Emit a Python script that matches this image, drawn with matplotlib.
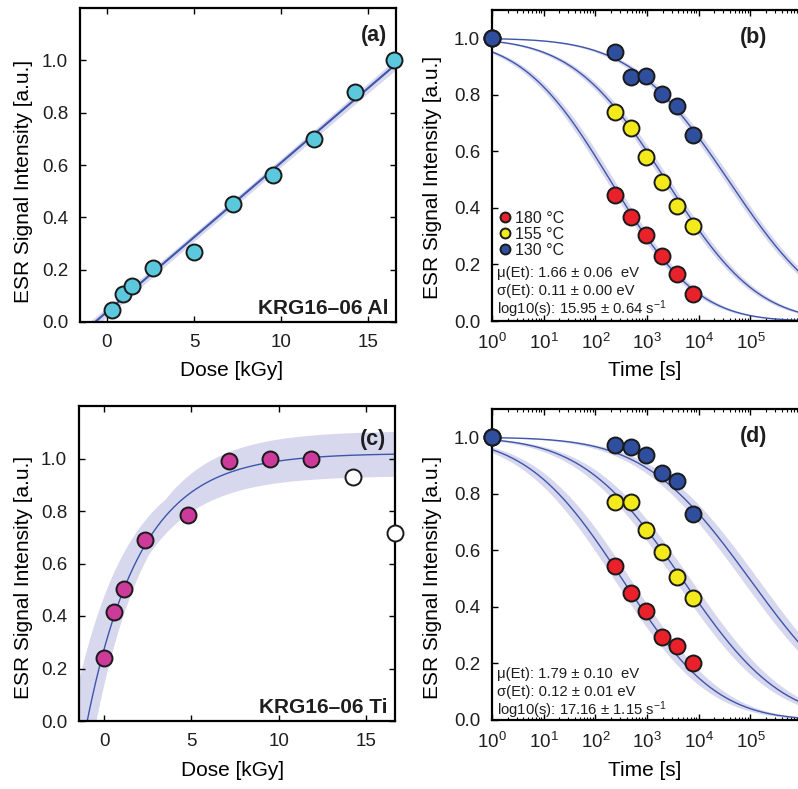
import numpy as np
import matplotlib
matplotlib.use("Agg")
import matplotlib.pyplot as plt
from matplotlib.ticker import LogLocator, FixedLocator, FormatStrFormatter, FuncFormatter

plt.rcParams['font.family'] = ['Liberation Sans', 'DejaVu Sans']
plt.rcParams['mathtext.fontset'] = 'custom'
plt.rcParams['mathtext.rm'] = 'Liberation Sans'
plt.rcParams['mathtext.it'] = 'Liberation Sans:italic'

# ---------------- data ----------------
# (a) KRG16-06 Al dose response
dose_al = [0.27, 0.90, 1.46, 2.62, 4.98, 7.23, 9.56, 11.90, 14.25, 16.50]
esr_al = [0.047, 0.106, 0.136, 0.208, 0.268, 0.452, 0.560, 0.700, 0.880, 1.000]
lin_slope, lin_icpt = 0.057, 0.039

# (c) KRG16-06 Ti dose response
dose_ti = [0.0, 0.56, 1.15, 2.35, 4.79, 7.13, 9.52, 11.87]
esr_ti = [0.240, 0.414, 0.503, 0.690, 0.786, 0.990, 0.997, 1.000]
dose_ti_excl = [14.25, 16.67]
esr_ti_excl = [0.930, 0.717]
sat_A, sat_D0, sat_Dc = 1.02, 0.98, 3.1

# (b)/(d) isothermal decay
times = [1, 240, 480, 960, 1920, 3840, 7680]
temps = [180, 155, 130]
b_180 = [1.0, 0.447, 0.368, 0.305, 0.230, 0.165, 0.097]
b_155 = [1.0, 0.739, 0.684, 0.581, 0.493, 0.408, 0.335]
b_130 = [1.0, 0.953, 0.864, 0.868, 0.804, 0.761, 0.658]
d_180 = [1.0, 0.544, 0.450, 0.387, 0.295, 0.262, 0.200]
d_155 = [1.0, 0.770, 0.770, 0.673, 0.595, 0.506, 0.431]
d_130 = [1.0, 0.974, 0.964, 0.937, 0.875, 0.845, 0.730]
fit_b = dict(mu=1.66, sig=0.11, logs=15.95)
fit_d = dict(mu=1.79, sig=0.12, logs=17.16)
band_b, band_d = 0.08, 0.16
text_b = ['\u03bc(Et): 1.66 \u00b1 0.06  eV', '\u03c3(Et): 0.11 \u00b1 0.00 eV',
          'log10(s): 15.95 \u00b1 0.64 s$^{\\mathregular{-1}}$']
text_d = ['\u03bc(Et): 1.79 \u00b1 0.10  eV', '\u03c3(Et): 0.12 \u00b1 0.01 eV',
          'log10(s): 17.16 \u00b1 1.15 s$^{\\mathregular{-1}}$']

c_red, c_yel, c_blu = '#e8212a', '#f3ea1c', '#2f4e9e'
c_cyan, c_mag = '#5bc8dd', '#cc3a9a'
c_line, c_band = '#3e55aa', '#d7d8ee'
c_text = '#1e1e1e'
ms, mew = 11.5, 1.4
fs_tick, fs_lab = 13.5, 15

plt.rcParams['text.color'] = c_text
plt.rcParams['xtick.labelcolor'] = c_text
plt.rcParams['ytick.labelcolor'] = c_text

W, H = 798, 789
fig = plt.figure(figsize=(W / 100, H / 100), dpi=100)


def add_ax(l, r, t, b):
    return fig.add_axes([l / W, 1 - b / H, (r - l) / W, (b - t) / H])


def style(ax):
    for s in ax.spines.values():
        s.set_linewidth(1.6)
    ax.tick_params(direction='in', top=True, right=True, length=4, width=1,
                   labelsize=fs_tick, pad=8.5)
    ax.tick_params(which='minor', direction='in', top=True, right=True,
                   length=2.5, width=0.8)
    ax.yaxis.set_major_formatter(FormatStrFormatter('%.1f'))


def decay(t, mu, sig, logs, Tc):
    kT = 8.617e-5 * (Tc + 273.15)
    E = np.linspace(mu - 5 * sig, mu + 5 * sig, 1201)
    w = np.exp(-0.5 * ((E - mu) / sig) ** 2)
    w /= w.sum()
    k = 10 ** logs * np.exp(-E / kT)
    return (w[None, :] * np.exp(-np.outer(t, k))).sum(axis=1)


# ---------------- (a) ----------------
ax = add_ax(80, 396, 8, 322)
style(ax)
ax.set_xlim(-1.55, 16.6)
ax.set_ylim(0, 1.2)
ax.yaxis.set_major_locator(FixedLocator([0, 0.2, 0.4, 0.6, 0.8, 1.0]))
ax.xaxis.set_major_locator(FixedLocator([0, 5, 10, 15]))
xx = np.linspace(-1.6, 17, 200)
yy = lin_slope * xx + lin_icpt
hw = np.sqrt(0.015 ** 2 + (0.0015 * (xx - 7)) ** 2)
ax.fill_between(xx, yy - hw, yy + hw, color=c_band, lw=0)
ax.plot(xx, yy, color=c_line, lw=1.5)
ax.plot(dose_al, esr_al, 'o', ms=ms, mfc=c_cyan, mec='#1a1a1a', mew=mew, clip_on=False, zorder=5)
ax.set_xlabel('Dose [kGy]', fontsize=fs_lab)
ax.set_ylabel('ESR Signal Intensity [a.u.]', fontsize=fs_lab)
ax.xaxis.set_label_coords(0.48, -0.153)
ax.yaxis.set_label_coords(-0.18, 0.449)
ax.xaxis.label.set_va('center')
ax.yaxis.label.set_va('center')
ax.text(0.972, 0.913, '(a)', transform=ax.transAxes, ha='right', va='center',
        fontsize=15.5, fontweight='bold')
ax.text(0.975, 0.025, 'KRG16\u201306 Al', transform=ax.transAxes, ha='right', va='baseline',
        fontsize=15, fontweight='bold')

# ---------------- (c) ----------------
ax = add_ax(79, 395, 406, 721)
style(ax)
ax.set_xlim(-1.45, 16.67)
ax.set_ylim(0, 1.2)
ax.yaxis.set_major_locator(FixedLocator([0, 0.2, 0.4, 0.6, 0.8, 1.0]))
ax.xaxis.set_major_locator(FixedLocator([0, 5, 10, 15]))
xx = np.linspace(-1.6, 17, 400)


def sat(x):
    return sat_A * (1 - np.exp(-(x + sat_D0) / sat_Dc))


up = np.maximum(sat(xx + 1.0), sat(xx) * 1.085)
lo = np.minimum(sat(xx - 0.5), sat(xx) * 0.917)
ax.fill_between(xx, lo, up, color=c_band, lw=0)
ax.plot(xx, sat(xx), color=c_line, lw=1.0)
ax.plot(dose_ti, esr_ti, 'o', ms=ms, mfc=c_mag, mec='#1a1a1a', mew=mew, clip_on=False, zorder=5)
ax.plot(dose_ti_excl, esr_ti_excl, 'o', ms=ms, mfc='white', mec='#1a1a1a', mew=mew, clip_on=False, zorder=5)
ax.set_xlabel('Dose [kGy]', fontsize=fs_lab)
ax.set_ylabel('ESR Signal Intensity [a.u.]', fontsize=fs_lab)
ax.xaxis.set_label_coords(0.485, -0.156)
ax.yaxis.set_label_coords(-0.177, 0.456)
ax.xaxis.label.set_va('center')
ax.yaxis.label.set_va('center')
ax.text(0.972, 0.893, '(c)', transform=ax.transAxes, ha='right', va='center',
        fontsize=15.5, fontweight='bold')
ax.text(0.975, 0.025, 'KRG16\u201306 Ti', transform=ax.transAxes, ha='right', va='baseline',
        fontsize=15, fontweight='bold')


def log_fmt(v, pos):
    e = int(round(np.log10(v)))
    if e > 5:
        return ''
    return '$\\mathdefault{10^{%d}}$' % e


# ---------------- (b) / (d) ----------------
def decay_panel(ax, series, fit, band, label, lines, line_y, legend):
    style(ax)
    ax.set_xscale('log')
    ax.set_xlim(1, 10 ** 6.5)
    ax.xaxis.set_major_locator(LogLocator(base=10, numticks=10))
    ax.xaxis.set_minor_locator(LogLocator(base=10, subs=np.arange(2, 10), numticks=20))
    ax.xaxis.set_major_formatter(FuncFormatter(log_fmt))
    ax.set_ylim(0, 1.1)
    ax.yaxis.set_major_locator(FixedLocator([0, 0.2, 0.4, 0.6, 0.8, 1.0]))
    ax.yaxis.set_major_formatter(FormatStrFormatter('%.1f'))
    tt = np.logspace(0, 6.6, 400)
    for Tc in temps:
        y1 = decay(tt * 10 ** band, Tc=Tc, **fit)
        y2 = decay(tt * 10 ** -band, Tc=Tc, **fit)
        ax.fill_between(tt, np.minimum(y1, y2), np.maximum(y1, y2), color=c_band, lw=0)
    for Tc in temps:
        ax.plot(tt, decay(tt, Tc=Tc, **fit), color=c_line, lw=1.0)
    handles = []
    for vals, col, Tc in series:
        h, = ax.plot(times, vals, 'o', ms=ms, mfc=col, mec='#1a1a1a', mew=mew,
                     clip_on=False, zorder=5, label='%d \u00b0C' % Tc)
        handles.append(h)
    ax.set_xlabel('Time [s]', fontsize=fs_lab)
    ax.set_ylabel('ESR Signal Intensity [a.u.]', fontsize=fs_lab)
    ax.xaxis.label.set_va('center')
    ax.yaxis.label.set_va('center')
    ax.text(275 / 336, 0.913, label, transform=ax.transAxes, ha='right', va='center',
            fontsize=15.5, fontweight='bold')
    for s, yv in zip(lines, line_y):
        ax.text(0.015, yv, s, transform=ax.transAxes, ha='left', va='center',
                fontsize=10.7)
    if legend:
        ax.legend(handles=handles, loc='lower left', bbox_to_anchor=(-0.008, 0.168),
                  frameon=False, fontsize=11.5, handlelength=0.6, handletextpad=0.3,
                  labelspacing=0.05, borderpad=0.2, markerscale=0.62)


ax = add_ax(492, 828, 10, 321)
decay_panel(ax, [(b_180, c_red, 180), (b_155, c_yel, 155), (b_130, c_blu, 130)], fit_b, band_b, '(b)',
            text_b, [0.153, 0.095, 0.037], True)
ax.xaxis.set_label_coords(153 / 336, -0.158)
ax.yaxis.set_label_coords(-60 / 336, 0.463)

ax = add_ax(492, 828, 409, 720)
decay_panel(ax, [(d_180, c_red, 180), (d_155, c_yel, 155), (d_130, c_blu, 130)], fit_d, band_d, '(d)',
            text_d, [0.149, 0.091, 0.033], False)
ax.xaxis.set_label_coords(153 / 336, -0.161)
ax.yaxis.set_label_coords(-60 / 336, 0.46)

fig.savefig('out.png', dpi=100)
